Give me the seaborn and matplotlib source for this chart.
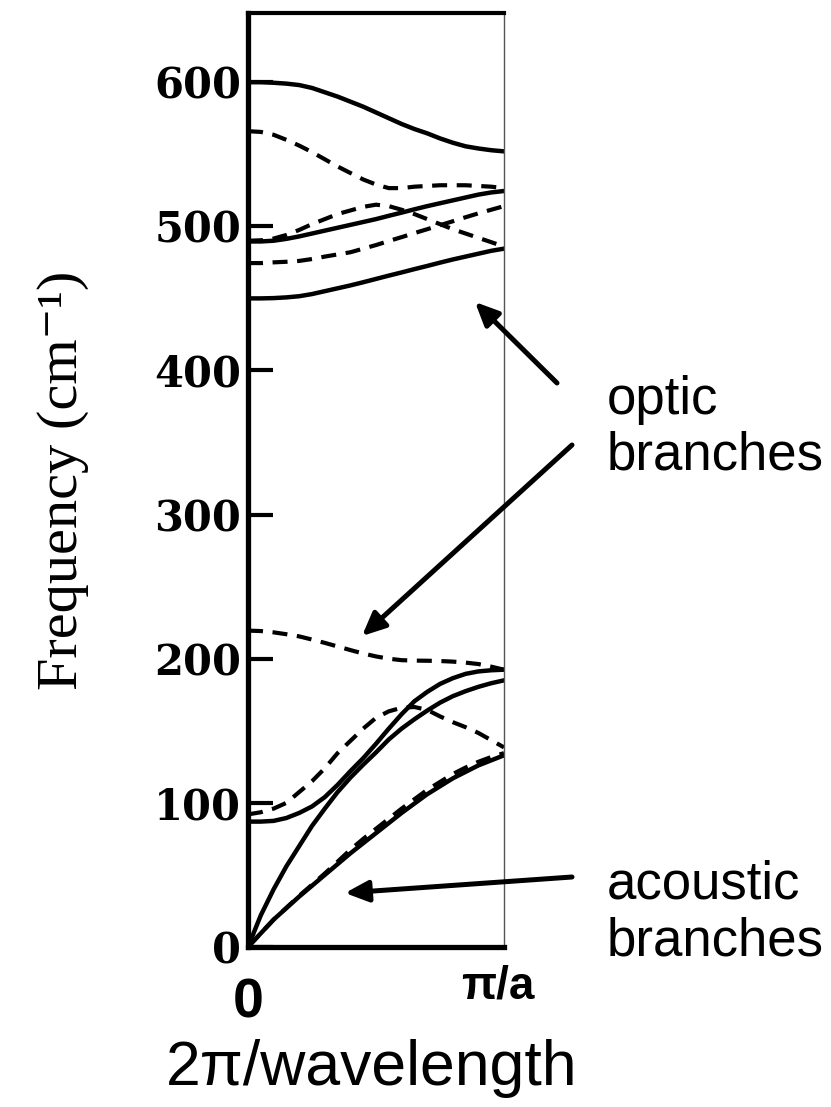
import matplotlib
matplotlib.use("Agg")
import matplotlib.pyplot as plt
import matplotlib.transforms as mtransforms
import seaborn as sns

# ---------------- data ----------------
wavevector = [0.0, 0.05, 0.1, 0.15, 0.2, 0.25, 0.3, 0.35, 0.4, 0.45, 0.5,
              0.55, 0.6, 0.65, 0.7, 0.75, 0.8, 0.85, 0.9, 0.95, 1.0]

# optic branches (upper band)
optic_top_solid = [600, 600, 599.6, 599, 598, 596, 593, 590, 586.5, 583, 579,
                   575, 571, 567.5, 564.5, 561, 558, 555.5, 554, 552.8, 552]
optic_dash_a = [566, 565.5, 563.5, 560, 556, 551.5, 546.5, 541.5, 537, 532.5, 529,
                526.5, 526.5, 527.5, 528, 528.5, 528.5, 528.5, 528, 527.5, 526.5]
optic_dash_k = [490, 490.3, 491.5, 494, 497.5, 501.5, 505, 508.5, 511, 513.5, 515,
                514, 511.5, 508.5, 505, 501.5, 498, 495, 492, 489, 486]
optic_solid_c = [489.5, 489.5, 490, 491.3, 493, 495, 497, 499, 501, 503, 505,
                 507.3, 509.5, 511.8, 514, 516, 518, 520, 522, 523.5, 524.5]
optic_dash_b = [474.5, 474.5, 475, 475.4, 476, 477.3, 479, 480.5, 482, 484.5, 487,
                489.8, 492.5, 495.3, 498, 500.8, 503.5, 506.3, 509, 511.5, 514]
optic_solid_d = [450, 450, 450.2, 450.7, 451.5, 453, 455, 457, 459, 461.2, 463.5,
                 465.8, 468, 470.3, 472.5, 474.8, 477, 479, 481, 483, 484.5]

# low optic / acoustic band
optic_dash_e = [219.5, 219.2, 218.3, 217, 215.5, 213.3, 211, 208.5, 206, 203.6, 201.6,
                200, 199, 198.7, 198.6, 198.4, 198, 197.3, 196.3, 194.5, 192.4]
optic_solid_f = [87, 87, 87.5, 89.5, 93, 97.5, 104, 112.5, 122, 131, 141,
                 151.5, 161.5, 170.5, 177, 182.5, 186.5, 189.5, 191.2, 192, 192.4]
optic_dash_g = [92, 93.5, 96, 100, 107.5, 115, 124, 134.5, 143, 151.5, 159,
                163.5, 166, 166.5, 164.5, 160, 156, 152.5, 148.5, 143.5, 138.5]
acoustic_solid_h = [0, 22, 40, 56, 70, 84, 96, 107.5, 117.5, 126.5, 135,
                    144, 151.5, 158, 164, 169.5, 174, 177.5, 180.5, 183, 185]
acoustic_solid_i = [0, 9.5, 19, 27, 35, 42.5, 50, 57.5, 65, 72, 79,
                    86, 93, 99.5, 106, 111.5, 117, 121.5, 126, 129.5, 133]
acoustic_dash_j = [0, 9.5, 19, 27.2, 35.5, 43.2, 51, 59.2, 67.5, 75, 82,
                   89, 96, 102.5, 109, 114.5, 120, 124.5, 128.5, 131.8, 134.5]

y_ticks = [0, 100, 200, 300, 400, 500, 600]
x_ticks = [0, 1]
x_tick_labels = ["0", "π/a"]
y_label = "Frequency (cm⁻¹)"
x_label = "2π/wavelength"
optic_text = "optic\nbranches"
acoustic_text = "acoustic\nbranches"

solid_branches = [optic_top_solid, optic_solid_c, optic_solid_d,
                  optic_solid_f, acoustic_solid_h, acoustic_solid_i]
dashed_branches = [optic_dash_a, optic_dash_k, optic_dash_b,
                   optic_dash_e, optic_dash_g, acoustic_dash_j]

# ---------------- figure ----------------
sns.set_style("white")
plt.rcParams["font.family"] = ["Liberation Sans", "DejaVu Sans"]
for key in ["text.color", "axes.labelcolor", "xtick.color", "ytick.color",
            "axes.edgecolor"]:
    plt.rcParams[key] = "black"

W, H = 831, 1107
fig = plt.figure(figsize=(W / 100, H / 100), dpi=100)
ax = fig.add_axes([248 / W, 1 - 947 / H, (504 - 248) / W, (947 - 13) / H])

for branch in solid_branches:
    sns.lineplot(x=wavevector, y=branch, ax=ax, color="black",
                 linewidth=3.2, linestyle="-")
for branch in dashed_branches:
    sns.lineplot(x=wavevector, y=branch, ax=ax, color="black",
                 linewidth=3.0, linestyle=(0, (3.6, 2.3)))

ax.set_xlim(0, 1)
ax.set_ylim(0, 648)

# spines
for side, lw, col in [("left", 3.8, "black"), ("bottom", 3.8, "black"),
                      ("top", 3.0, "black"), ("right", 1.0, "#555555")]:
    ax.spines[side].set_linewidth(lw)
    ax.spines[side].set_color(col)
    ax.spines[side].set_visible(True)

# y ticks
ax.set_yticks(y_ticks)
ax.set_yticklabels([str(v) for v in y_ticks])
ax.tick_params(axis="y", direction="in", length=18, width=3, color="black",
               pad=5, left=True, right=False, labelcolor="black")
for lbl in ax.get_yticklabels():
    lbl.set_fontfamily("DejaVu Serif")
    lbl.set_fontweight("bold")
    lbl.set_fontsize(30)

# x ticks
ax.set_xticks(x_ticks)
ax.set_xticklabels(x_tick_labels)
ax.tick_params(axis="x", length=0, pad=22, bottom=True, labelcolor="black")
xl = ax.get_xticklabels()
xl[0].set_fontsize(40)
xl[0].set_fontweight("bold")
xl[1].set_fontsize(33)
xl[1].set_fontweight("bold")
xl[1].set_transform(xl[1].get_transform() +
                    mtransforms.ScaledTranslation(-0.06, 0.13, fig.dpi_scale_trans))

# axis labels
ax.set_ylabel(y_label, fontsize=42, family=["Liberation Serif", "DejaVu Serif"],
              color="black")
ax.yaxis.set_label_coords(-0.62, 0.5)
ax.set_xlabel(x_label, fontsize=45, color="black")
ax.xaxis.set_label_coords(0.482, -0.098)


def fpt(px, py):
    return (px / W, 1 - py / H)


# annotation texts
fig.text(*fpt(607, 470), optic_text, fontsize=38, ha="left", va="baseline",
         linespacing=1.16, color="black")
fig.text(*fpt(607, 955), acoustic_text, fontsize=38, ha="left", va="baseline",
         linespacing=1.16, color="black")

# arrows
arrow_kw = dict(arrowstyle="-|>,head_length=0.7,head_width=0.32",
                mutation_scale=20, lw=3.6, color="black",
                shrinkA=0, shrinkB=0)
for tail, tip in [((557, 383), (475, 302)),
                  ((572, 445), (362, 636)),
                  ((572, 877), (345, 893))]:
    ax.annotate("", xy=fpt(*tip), xycoords="figure fraction",
                xytext=fpt(*tail), textcoords="figure fraction",
                arrowprops=arrow_kw, annotation_clip=False)

fig.savefig("out.png", dpi=100)
